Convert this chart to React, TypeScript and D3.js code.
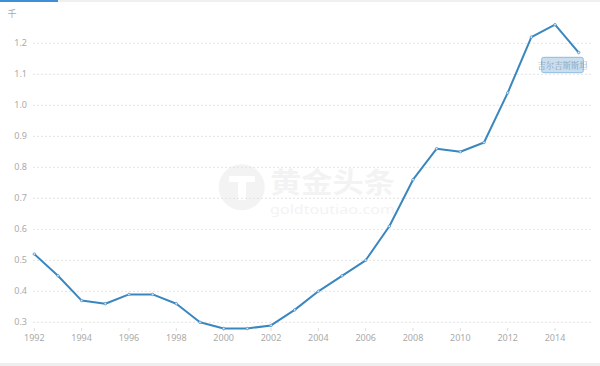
import React from "react";
import * as d3 from "d3";

const years = [1992,1993,1994,1995,1996,1997,1998,1999,2000,2001,2002,2003,2004,2005,2006,2007,2008,2009,2010,2011,2012,2013,2014,2015];
const values = [0.52,0.45,0.37,0.36,0.39,0.39,0.36,0.30,0.28,0.28,0.29,0.34,0.40,0.45,0.50,0.61,0.76,0.86,0.85,0.88,1.04,1.22,1.26,1.17];
const yTicks = [0.3,0.4,0.5,0.6,0.7,0.8,0.9,1.0,1.1,1.2];
const xTicks = [1992,1994,1996,1998,2000,2002,2004,2006,2008,2010,2012,2014];
const unitLabel = "千";
const seriesName = "吉尔吉斯斯坦";

export default function App() {
  const W = 600, H = 366;
  const x = d3.scaleLinear().domain([1992, 2015]).range([34.3, 578.7]);
  const y = d3.scaleLinear().domain([0.3, 1.2]).range([322.3, 43.3]);
  const line = d3.line<number>().x((_, i) => x(years[i])).y((d) => y(d));
  const font = "'Noto Sans', 'Open Sans', sans-serif";
  const c = "#3a87c0";
  return (
    <svg width={W} height={H} style={{ position: "absolute", left: 0, top: 0, background: "#fff" }}>
      <rect x={0} y={0} width={W} height={2} fill="#f0f0f0" />
      <rect x={0} y={0} width={58} height={2} fill="#3d8fd8" />
      <rect x={0} y={363} width={W} height={3} fill="#eeeeee" />
      {/* watermark */}
      <g>
        <circle cx={241.7} cy={187.3} r={23} fill="#f3f3f3" />
        <rect x={229} y={176} width={26} height={6} fill="#fff" rx={1} />
        <rect x={238} y={176} width={8} height={24} fill="#fff" rx={1} />
        <text x={270} y={193} fontSize={28} fontWeight="bold" fill="#f3f3f3" fontFamily="'Noto Sans CJK SC', sans-serif" textLength={125} lengthAdjust="spacingAndGlyphs">黄金头条</text>
        <text x={270} y={214} fontSize={13} fill="#f3f3f3" fontFamily={font} textLength={125} lengthAdjust="spacingAndGlyphs">goldtoutiao.com</text>
      </g>
      <text x={12} y={17} fontSize={9} fill="#aaa" fontFamily="'Noto Sans CJK SC', sans-serif" textAnchor="middle">{unitLabel}</text>
      {yTicks.map((t) => (
        <g key={t}>
          <line x1={33} x2={593} y1={y(t)} y2={y(t)} stroke="#e3e3e3" strokeDasharray="2,2" />
          <text x={27} y={y(t) + 3} fontSize={9} fill="#aaa" textAnchor="end" fontFamily={font}>{t.toFixed(1)}</text>
        </g>
      ))}
      {xTicks.map((t) => (
        <g key={t}>
          <line x1={x(t)} x2={x(t)} y1={328} y2={331} stroke="#ddd" />
          <text x={x(t)} y={341} fontSize={9} fill="#aaa" textAnchor="middle" fontFamily={font}>{t}</text>
        </g>
      ))}
      <path d={line(values) || ""} fill="none" stroke={c} strokeWidth={2} strokeLinejoin="round" />
      {values.map((v, i) => (
        <circle key={i} cx={x(years[i])} cy={y(v)} r={1.3} fill="#d6e8f5" stroke={c} strokeWidth={0.6} />
      ))}
      <rect x={541.7} y={57.3} width={41.6} height={15.4} rx={2} fill="#c9dff0" stroke="#8fbbe0" strokeWidth={1} />
      <text x={562.5} y={68.5} fontSize={9} fill="#8a9aab" textAnchor="middle" fontFamily="'Noto Serif CJK SC', 'Noto Sans CJK SC', serif" textLength={50} lengthAdjust="spacingAndGlyphs">{seriesName}</text>
    </svg>
  );
}
